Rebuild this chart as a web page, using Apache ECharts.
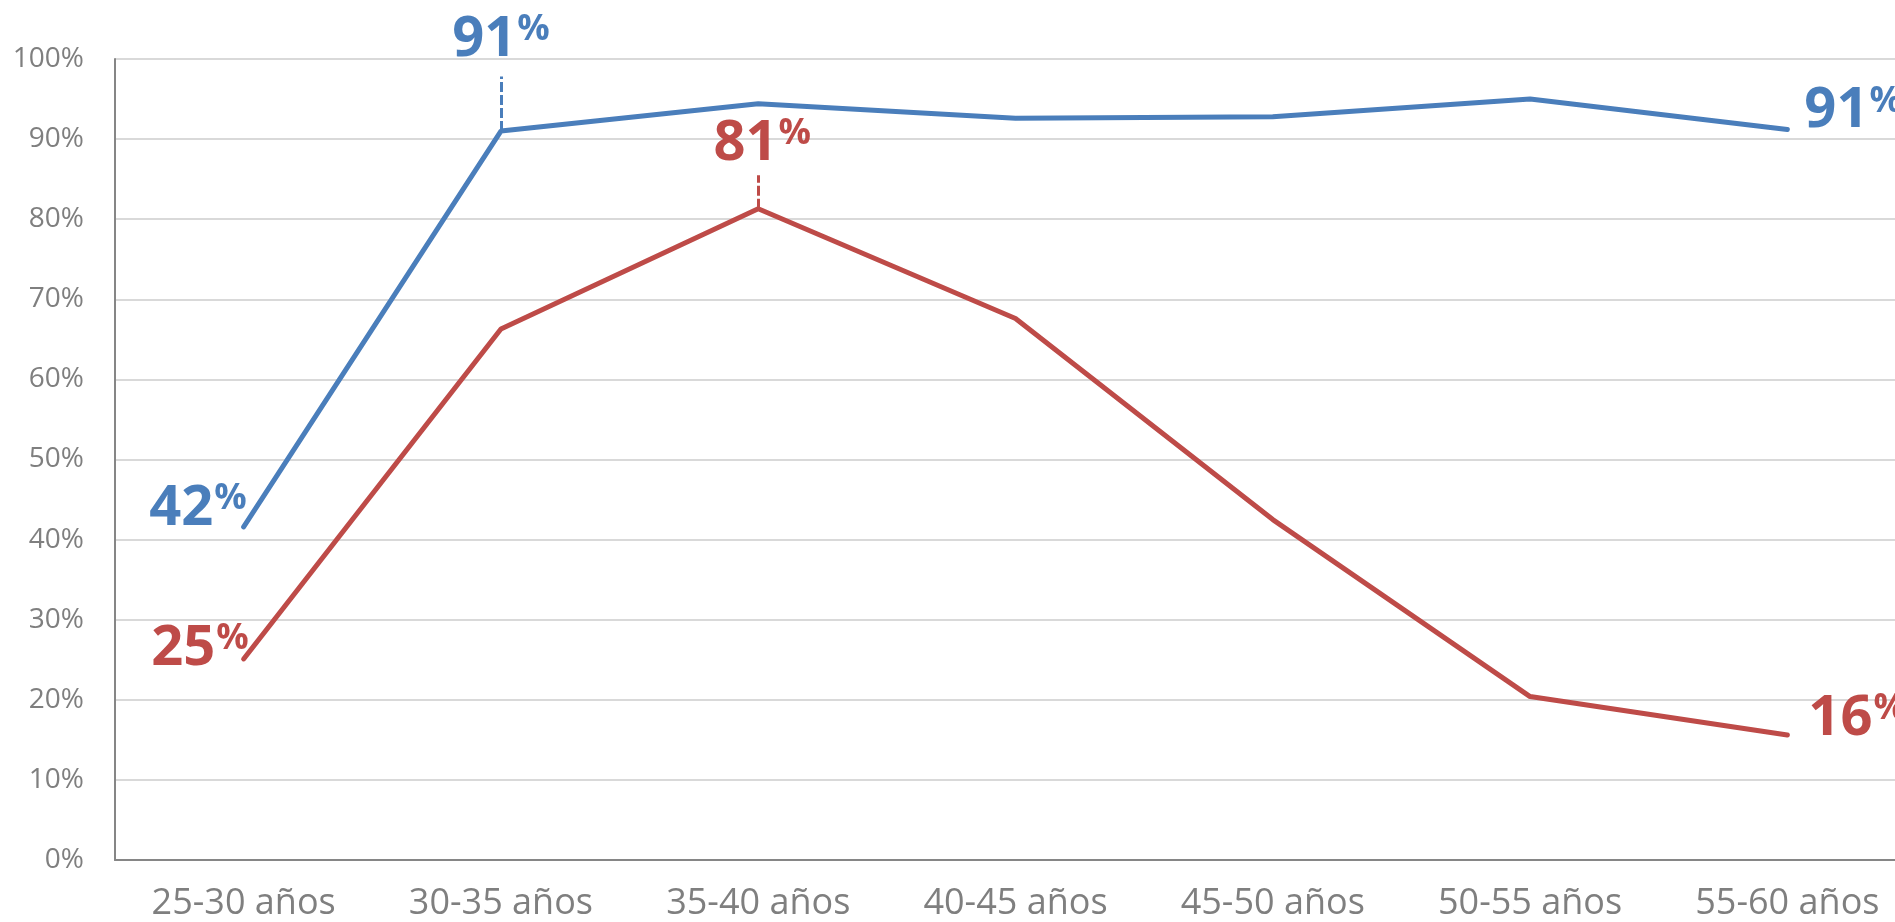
<!DOCTYPE html>
<html>
<head>
<meta charset="utf-8">
<script src="https://cdn.jsdelivr.net/npm/echarts@6/dist/echarts.min.js"></script>
<style>
  html, body { margin: 0; padding: 0; background: #fff; overflow: hidden; }
  #chart { width: 1916px; height: 922px; }
</style>
</head>
<body>
<div id="chart"></div>
<script>
// datos
const categories = ['25-30 años', '30-35 años', '35-40 años', '40-45 años', '45-50 años', '50-55 años', '55-60 años'];
const blueValues = [41.6, 91.0, 94.4, 92.6, 92.8, 95.0, 91.2];
const redValues = [25.1, 66.3, 81.3, 67.6, 42.5, 20.4, 15.6];
const yTicks = [0, 10, 20, 30, 40, 50, 60, 70, 80, 90, 100];

const BLUE = '#4a7ebb';
const RED = '#be4b48';
const FONT = 'Open Sans';

// etiqueta grande con el % en superindice
const bigLabel = (color, pos, offset, distance) => ({
    show: true,
    position: pos,
    distance: distance,
    offset: offset,
    formatter: (p) => '{n|' + Math.round(p.value) + '}{p|%}',
    rich: {
        n: { fontFamily: FONT, fontWeight: 'bold', fontSize: 56, lineHeight: 56, color: color },
        p: { fontFamily: FONT, fontWeight: 'bold', fontSize: 36, lineHeight: 28, color: color, verticalAlign: 'top', padding: [0, 0, 0, 1] }
    }
});

const withLabels = (values, labels) => values.map((v, i) => labels[i] ? { value: v, label: labels[i] } : v);

// guia punteada desde el punto hasta la etiqueta
const leader = (idx, values, len, color) => ({
    silent: true,
    symbol: ['none', 'none'],
    label: { show: false },
    animation: false,
    lineStyle: { color: color, width: 3, type: [10, 3] },
    data: [[
        { coord: [categories[idx], values[idx]] },
        { coord: [categories[idx], values[idx] + len] }
    ]]
});

const lineSeries = (name, values, color, labels, mark) => ({
    name: name,
    type: 'line',
    data: withLabels(values, labels),
    symbol: 'circle',
    symbolSize: 2,
    showSymbol: true,
    itemStyle: { color: color },
    lineStyle: { color: color, width: 5, cap: 'round' },
    label: { show: false },
    markLine: mark,
    z: 3
});

const chart = echarts.init(document.getElementById('chart'), null, { renderer: 'canvas' });
chart.setOption({
    animation: false,
    backgroundColor: '#fff',
    grid: { left: 115, right: 0, top: 59, bottom: 58, containLabel: false },
    xAxis: {
        type: 'category',
        data: categories,
        boundaryGap: true,
        axisLine: { lineStyle: { color: '#868686', width: 2 } },
        axisTick: { show: false },
        axisLabel: { fontFamily: FONT, fontSize: 36, color: '#7f7f7f', margin: 26, interval: 0 },
        splitLine: { show: false }
    },
    yAxis: {
        type: 'value',
        min: yTicks[0],
        max: yTicks[yTicks.length - 1],
        interval: yTicks[1] - yTicks[0],
        axisLine: { show: true, lineStyle: { color: '#868686', width: 2 } },
        axisTick: { show: false },
        axisLabel: { fontFamily: FONT, fontSize: 28, color: '#7f7f7f', margin: 31, formatter: '{value}%' },
        splitLine: { lineStyle: { color: '#d9d9d9', width: 2 } }
    },
    series: [
        lineSeries('azul', blueValues, BLUE, {
            0: bigLabel(BLUE, 'left', [4, -18], 0),
            1: bigLabel(BLUE, 'top', [0, 0], 62),
            6: bigLabel(BLUE, 'right', [0, -18], 16)
        }, leader(1, blueValues, 6.8, BLUE)),
        lineSeries('roja', redValues, RED, {
            0: bigLabel(RED, 'left', [6, -10], 0),
            2: bigLabel(RED, 'top', [4, 0], 36),
            6: bigLabel(RED, 'right', [0, -16], 20)
        }, leader(2, redValues, 4.2, RED))
    ]
});
</script>
</body>
</html>
